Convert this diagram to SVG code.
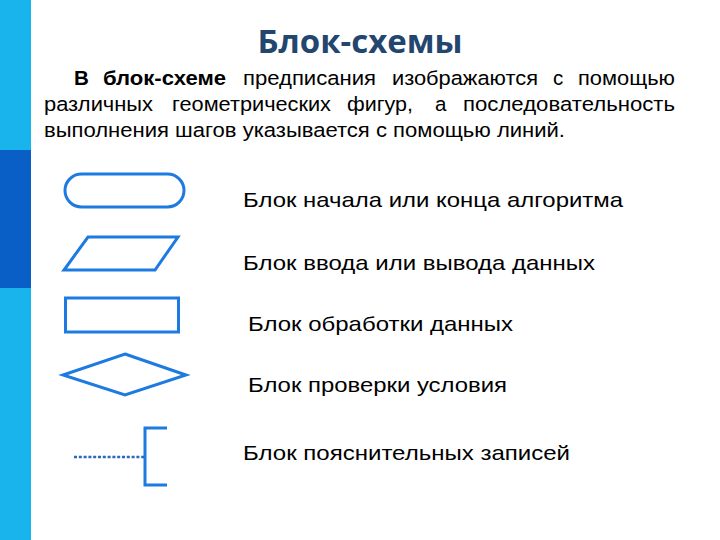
<svg xmlns="http://www.w3.org/2000/svg" width="720" height="540" viewBox="0 0 720 540">
<style>
.shape{fill:none;stroke:#1c7ae0;stroke-width:3;stroke-linejoin:miter}
.lbl{font-family:"Liberation Sans",Arial,sans-serif;font-size:21px;fill:#000}
.body{font-family:"Liberation Sans",Arial,sans-serif;font-size:20.5px;fill:#000}
</style>
<rect x="0" y="0" width="720" height="540" fill="#fff"/>
<g id="sidebar">
<rect x="0" y="0" width="31" height="150" fill="#19b4ec"/>
<rect x="0" y="150" width="31" height="138" fill="#0a5fc6"/>
<rect x="0" y="288" width="31" height="252" fill="#19b4ec"/>
</g>
<text x="360" y="53" text-anchor="middle" font-family="'Open Sans','DejaVu Sans',sans-serif" font-weight="bold" font-size="32" fill="#23466f" textLength="205" lengthAdjust="spacingAndGlyphs">Блок-схемы</text>
<g id="intro" class="body">
<text y="85"><tspan x="74" font-weight="bold">В</tspan><tspan x="103" font-weight="bold" textLength="123" lengthAdjust="spacingAndGlyphs">блок-схеме</tspan><tspan x="243" textLength="133" lengthAdjust="spacingAndGlyphs">предписания</tspan><tspan x="392" textLength="146" lengthAdjust="spacingAndGlyphs">изображаются</tspan><tspan x="553">с</tspan><tspan x="578" textLength="97" lengthAdjust="spacingAndGlyphs">помощью</tspan></text>
<text y="111"><tspan x="44" textLength="109" lengthAdjust="spacingAndGlyphs">различных</tspan><tspan x="172" textLength="159" lengthAdjust="spacingAndGlyphs">геометрических</tspan><tspan x="347" textLength="66" lengthAdjust="spacingAndGlyphs">фигур,</tspan><tspan x="435">а</tspan><tspan x="463" textLength="212" lengthAdjust="spacingAndGlyphs">последовательность</tspan></text>
<text x="44" y="137" textLength="521" lengthAdjust="spacingAndGlyphs">выполнения шагов указывается с помощью линий.</text>
</g>
<g id="terminal">
<rect class="shape" x="65" y="174" width="119" height="33" rx="16.5"/>
<text class="lbl" x="243" y="207" textLength="380" lengthAdjust="spacingAndGlyphs">Блок начала или конца алгоритма</text>
</g>
<g id="io">
<polygon class="shape" points="88,237 178,237 155,270 64,270"/>
<text class="lbl" x="243" y="270" textLength="352" lengthAdjust="spacingAndGlyphs">Блок ввода или вывода данных</text>
</g>
<g id="process">
<rect class="shape" x="65.5" y="298" width="113" height="34"/>
<text class="lbl" x="248" y="331" textLength="265" lengthAdjust="spacingAndGlyphs">Блок обработки данных</text>
</g>
<g id="decision">
<polygon class="shape" points="125,354 186,375 125,395 63,375"/>
<text class="lbl" x="248" y="392" textLength="259" lengthAdjust="spacingAndGlyphs">Блок проверки условия</text>
</g>
<g id="comment">
<polyline class="shape" points="167,428 145,428 145,485 167,485"/>
<text class="lbl" x="243" y="460" textLength="327" lengthAdjust="spacingAndGlyphs">Блок пояснительных записей</text>
</g>
<g id="connectors">
<line x1="74" y1="457" x2="144" y2="457" stroke="#2a6ab8" stroke-width="2.5" stroke-dasharray="3 1.8"/>
</g>
</svg>
